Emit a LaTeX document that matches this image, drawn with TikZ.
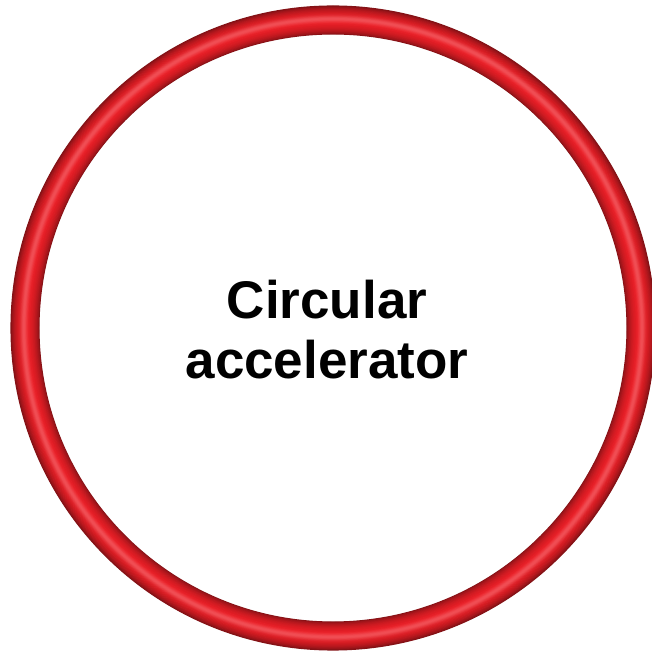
\documentclass[tikz,border=0pt]{standalone}
\usepackage{fontspec}
\setmainfont{Liberation Sans}
\usepackage{tikz}

\definecolor{ringred}{RGB}{238,28,36}

\begin{document}
\begin{tikzpicture}[
  x=1pt, y=1pt,
  title/.style={font=\fontsize{53}{60}\selectfont\bfseries, align=center,
                inner sep=0pt, text=black},
]
\useasboundingbox (0,0) rectangle (652,653);

%% Ring (shaded tube)
\coordinate (ctr) at (333,325);
\foreach \t in {0,0.02,...,1.001} {
  \pgfmathtruncatemacro\p{55+45*(abs(sin(180*\t))+0.0001)^0.7}
  \pgfmathtruncatemacro\q{100-22*exp(-((\t-0.55)/0.12)^2)}
  \draw[line width=1.1pt, ringred!\p!black!\q!white] (ctr) circle[radius={(294+28*\t)*1pt}];
}

%% Label
\node[title] (lbl) at (327,323) {Circular\\accelerator};

\end{tikzpicture}
\end{document}
